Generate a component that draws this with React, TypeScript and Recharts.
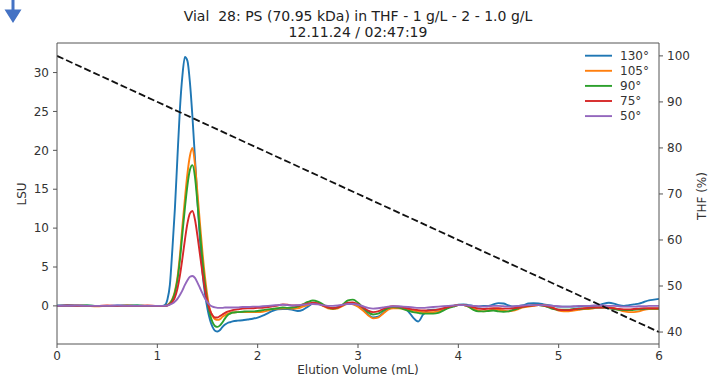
import React from 'react';
import { LineChart, Line, XAxis, YAxis, ReferenceLine } from 'recharts';

const elution = [
  0, 0.1, 0.2, 0.3, 0.4, 0.5, 0.6, 0.7, 0.8, 0.9, 1.0,
  1.05, 1.075, 1.1, 1.125, 1.15, 1.175, 1.2, 1.225, 1.25, 1.275,
  1.3, 1.325, 1.35, 1.375, 1.4, 1.425, 1.45, 1.475, 1.5, 1.525,
  1.55, 1.575, 1.6, 1.625, 1.65, 1.675, 1.7, 1.725, 1.75,
  1.8, 1.85, 1.9, 1.95, 2.0, 2.05, 2.1, 2.15, 2.2, 2.25,
  2.3, 2.35, 2.4, 2.45, 2.5, 2.55, 2.6, 2.65, 2.7, 2.75,
  2.8, 2.85, 2.9, 2.95, 3.0, 3.05, 3.1, 3.15, 3.2, 3.25,
  3.3, 3.35, 3.4, 3.45, 3.5, 3.55, 3.6, 3.65, 3.7, 3.75,
  3.8, 3.85, 3.9, 3.95, 4.0, 4.05, 4.1, 4.15, 4.2, 4.25,
  4.3, 4.35, 4.4, 4.45, 4.5, 4.55, 4.6, 4.65, 4.7, 4.75,
  4.8, 4.85, 4.9, 4.95, 5.0, 5.05, 5.1, 5.15, 5.2, 5.25,
  5.3, 5.35, 5.4, 5.45, 5.5, 5.55, 5.6, 5.65, 5.7, 5.75,
  5.8, 5.85, 5.9, 5.95, 6.0,
];

const lsu130 = [
  0.05, 0.1, 0.1, 0.05, 0.0, 0.0, 0.05, 0.1, 0.05, 0.0, 0.0,
  0.0, 0.1, 0.8, 2.7, 7.3, 12.5, 19.0, 25.3, 29.6, 32.0,
  31.5, 28.7, 24.3, 19.0, 13.6, 8.5, 4.3, 1.5, -0.4, -1.8,
  -2.7, -3.2, -3.3, -3.1, -2.7, -2.4, -2.2, -2.1, -2.0,
  -1.9, -1.85, -1.75, -1.65, -1.5, -1.25, -0.95, -0.65, -0.45, -0.4,
  -0.4, -0.5, -0.65, -0.5, -0.1, 0.3, 0.35, 0.1, -0.2, -0.3,
  -0.2, 0.1, 0.35, 0.3, 0.0, -0.5, -1.1, -1.5, -1.4, -0.9,
  -0.4, -0.2, -0.2, -0.3, -0.7, -1.5, -2.0, -1.1, -0.55, -0.5,
  -0.5, -0.4, -0.2, 0.0, 0.15, 0.2, 0.1, 0.0, -0.1, 0.0,
  0.0, 0.2, 0.35, 0.3, 0.05, -0.1, 0.0, 0.1, 0.3, 0.35,
  0.3, 0.2, 0.1, 0.0, -0.1, -0.1, -0.1, -0.1, -0.1, 0.0,
  0.0, 0.0, 0.1, 0.3, 0.4, 0.3, 0.1, 0.0, 0.1, 0.2,
  0.3, 0.5, 0.7, 0.8, 0.9,
];

const lsu105 = [
  0, 0, 0.05, 0, -0.05, 0, 0, 0.05, 0, 0, 0,
  0.0, 0.0, 0.1, 0.4, 0.9, 1.9, 3.6, 6.5, 10.3, 13.8,
  17.0, 19.3, 20.3, 18.2, 14.5, 10.6, 6.9, 3.7, 1.2, -0.5,
  -1.3, -1.7, -1.8, -1.7, -1.4, -1.2, -1.0, -0.9, -0.85,
  -0.8, -0.8, -0.8, -0.8, -0.8, -0.75, -0.6, -0.4, -0.35, -0.3,
  -0.3, -0.35, -0.3, -0.1, 0.1, 0.3, 0.3, 0.0, -0.3, -0.4,
  -0.3, 0.0, 0.3, 0.2, -0.1, -0.6, -1.2, -1.6, -1.5, -1.0,
  -0.5, -0.3, -0.3, -0.4, -0.5, -0.6, -0.7, -0.8, -0.8, -0.8,
  -0.7, -0.5, -0.2, 0.0, 0.1, 0.1, -0.1, -0.4, -0.6, -0.7,
  -0.6, -0.5, -0.5, -0.6, -0.7, -0.6, -0.4, -0.2, -0.1, 0.0,
  0.1, 0.1, 0.0, -0.3, -0.6, -0.7, -0.7, -0.6, -0.5, -0.4,
  -0.4, -0.3, -0.2, -0.2, -0.2, -0.3, -0.5, -0.7, -0.8, -0.8,
  -0.7, -0.5, -0.4, -0.4, -0.4,
];

const lsu90 = [
  0, 0, 0, 0.05, 0, 0, 0, 0, 0.05, 0, 0,
  0.0, 0.0, 0.1, 0.3, 0.8, 1.7, 3.3, 5.9, 9.3, 12.6,
  15.5, 17.5, 18.1, 16.6, 13.2, 9.4, 5.8, 2.8, 0.5, -1.1,
  -2.1, -2.6, -2.7, -2.5, -2.1, -1.6, -1.2, -1.0, -0.85,
  -0.8, -0.75, -0.7, -0.7, -0.65, -0.55, -0.45, -0.4, -0.3, -0.2,
  -0.25, -0.2, -0.1, 0.2, 0.5, 0.7, 0.55, 0.2, -0.2, -0.35,
  -0.2, 0.2, 0.7, 0.8, 0.4, -0.2, -0.8, -1.1, -1.0, -0.6,
  -0.3, -0.15, -0.2, -0.4, -0.6, -0.8, -0.9, -1.0, -1.0, -1.0,
  -0.9, -0.6, -0.3, -0.1, 0.1, 0.1, -0.1, -0.5, -0.7, -0.7,
  -0.65, -0.6, -0.7, -0.75, -0.7, -0.5, -0.3, -0.1, 0.0, 0.1,
  0.1, 0.0, -0.2, -0.4, -0.5, -0.5, -0.5, -0.4, -0.4, -0.35,
  -0.3, -0.25, -0.2, -0.2, -0.3, -0.4, -0.5, -0.55, -0.55, -0.5,
  -0.45, -0.4, -0.35, -0.35, -0.35,
];

const lsu75 = [
  0, 0.05, 0, 0, 0, 0.05, 0, 0, 0, 0.05, 0,
  0.0, 0.0, 0.05, 0.2, 0.5, 1.1, 2.2, 3.9, 6.1, 8.5,
  10.6, 11.9, 12.2, 11.1, 9.0, 6.6, 4.2, 2.1, 0.5, -0.6,
  -1.2, -1.5, -1.5, -1.3, -1.1, -0.9, -0.75, -0.65, -0.55,
  -0.45, -0.35, -0.3, -0.3, -0.25, -0.25, -0.15, -0.05, 0.05, 0.2,
  0.15, 0.05, 0.05, 0.15, 0.3, 0.4, 0.3, 0.05, -0.2, -0.3,
  -0.2, 0.1, 0.4, 0.45, 0.2, -0.2, -0.6, -0.8, -0.7, -0.4,
  -0.15, -0.05, -0.1, -0.2, -0.35, -0.45, -0.55, -0.6, -0.6, -0.55,
  -0.45, -0.3, -0.15, 0.0, 0.1, 0.1, 0.0, -0.2, -0.35, -0.4,
  -0.35, -0.3, -0.3, -0.35, -0.35, -0.3, -0.2, -0.1, 0.0, 0.05,
  0.1, 0.05, -0.1, -0.3, -0.5, -0.55, -0.55, -0.45, -0.35, -0.3,
  -0.25, -0.2, -0.2, -0.2, -0.25, -0.3, -0.4, -0.45, -0.45, -0.4,
  -0.35, -0.3, -0.3, -0.3, -0.3,
];

const lsu50 = [
  0, 0, 0.05, 0, 0, 0, 0.05, 0, 0, 0, 0,
  0.0, 0.0, 0.05, 0.15, 0.3, 0.55, 0.9, 1.4, 2.0, 2.7,
  3.3, 3.75, 3.85, 3.6, 3.0, 2.3, 1.6, 0.95, 0.45, 0.1,
  -0.1, -0.2, -0.25, -0.25, -0.25, -0.2, -0.2, -0.2, -0.2,
  -0.2, -0.15, -0.15, -0.1, -0.1, -0.05, 0.0, 0.05, 0.1, 0.15,
  0.1, 0.05, 0.1, 0.15, 0.2, 0.25, 0.2, 0.1, 0.0, 0.0,
  0.05, 0.15, 0.25, 0.25, 0.15, -0.05, -0.25, -0.35, -0.3, -0.2,
  -0.1, -0.05, -0.05, -0.1, -0.15, -0.2, -0.25, -0.25, -0.2, -0.15,
  -0.1, -0.05, 0.0, 0.05, 0.1, 0.1, 0.05, 0.0, -0.05, -0.1,
  -0.05, 0.0, 0.0, -0.05, -0.1, -0.05, 0.0, 0.05, 0.1, 0.1,
  0.1, 0.1, 0.05, 0.0, -0.05, -0.1, -0.1, -0.05, 0.0, 0.0,
  0.0, 0.05, 0.05, 0.05, 0.0, 0.0, -0.05, -0.1, -0.1, -0.1,
  -0.05, -0.05, 0.0, 0.0, 0.0,
];

const seriesKeys = ['s130', 's105', 's90', 's75', 's50'];
const seriesNames = ['130°', '105°', '90°', '75°', '50°'];
const seriesColors = ['#1f77b4', '#ff7f0e', '#2ca02c', '#d62728', '#9467bd'];
const seriesValues = [lsu130, lsu105, lsu90, lsu75, lsu50];

const thfVolume = [0, 6];
const thfPercent = [100, 40];

const volumeTicks = [0, 1, 2, 3, 4, 5, 6];
const lsuTicks = [0, 5, 10, 15, 20, 25, 30];
const thfTicks = [40, 50, 60, 70, 80, 90, 100];

const titleLine1 = 'Vial  28: PS (70.95 kDa) in THF - 1 g/L - 2 - 1.0 g/L';
const titleLine2 = '12.11.24 / 02:47:19';

const rows = elution.map((x, i) => {
  const r: Record<string, number> = { x };
  seriesKeys.forEach((k, j) => {
    r[k] = seriesValues[j][i];
  });
  return r;
});

const thfRows = thfVolume.map((x, i) => ({ x, thf: thfPercent[i] }));

const FONT = 'DejaVu Sans';
const tickStyle = { fill: '#333', fontSize: 12, fontFamily: FONT };
const axisColor = '#555';

export default function App() {
  return (
    <div style={{ position: 'absolute', left: 0, top: 0, width: 710, height: 377, background: '#fff' }}>
      <LineChart width={710} height={377} data={rows} margin={{ top: 43, right: 0, bottom: 0, left: 0 }}>
        <XAxis
          dataKey="x"
          type="number"
          domain={[0, 6]}
          ticks={volumeTicks}
          height={33}
          tickSize={4}
          tickMargin={3}
          tick={tickStyle}
          stroke={axisColor}
          allowDataOverflow
        />
        <YAxis
          yAxisId="left"
          type="number"
          domain={[-4.9, 33.8]}
          ticks={lsuTicks}
          width={57}
          tickSize={4}
          tickMargin={4}
          tick={tickStyle}
          stroke={axisColor}
          allowDataOverflow
        />
        <YAxis
          yAxisId="right"
          orientation="right"
          type="number"
          domain={[37.4, 102.8]}
          ticks={thfTicks}
          width={51}
          tickSize={4}
          tickMargin={4}
          tick={tickStyle}
          stroke={axisColor}
          allowDataOverflow
        />
        <ReferenceLine yAxisId="left" y={33.8} stroke={axisColor} strokeWidth={1} />
        {seriesKeys.map((k, j) => (
          <Line
            key={k}
            yAxisId="left"
            type="monotone"
            dataKey={k}
            name={seriesNames[j]}
            stroke={seriesColors[j]}
            strokeWidth={1.9}
            dot={false}
            activeDot={false}
            isAnimationActive={false}
          />
        ))}
        <Line
          yAxisId="right"
          data={thfRows}
          type="linear"
          dataKey="thf"
          stroke="#111"
          strokeWidth={1.8}
          strokeDasharray="7 3"
          dot={false}
          activeDot={false}
          legendType="none"
          isAnimationActive={false}
        />
      </LineChart>
      <svg
        width={710}
        height={377}
        style={{ position: 'absolute', left: 0, top: 0, pointerEvents: 'none' }}
      >
        <polygon points="11.5,0 14.5,0 14.5,9.5 21.5,9.5 13,23 4.5,9.5 11.5,9.5" fill="#4472C4" />
        <text x={358} y={21} textAnchor="middle" fontFamily={FONT} fontSize={14} fill="#222" style={{ whiteSpace: 'pre' }}>
          {titleLine1}
        </text>
        <text x={358} y={37} textAnchor="middle" fontFamily={FONT} fontSize={14} fill="#222">
          {titleLine2}
        </text>
        <text
          x={22}
          y={194}
          textAnchor="middle"
          dominantBaseline="central"
          transform="rotate(-90, 22, 194)"
          fontFamily={FONT}
          fontSize={12}
          fill="#333"
        >
          LSU
        </text>
        <text
          x={702}
          y={196}
          textAnchor="middle"
          dominantBaseline="central"
          transform="rotate(-90, 702, 196)"
          fontFamily={FONT}
          fontSize={12}
          fill="#333"
        >
          THF (%)
        </text>
        <text x={358} y={374} textAnchor="middle" fontFamily={FONT} fontSize={12} fill="#333">
          Elution Volume (mL)
        </text>
        {seriesNames.map((name, i) => (
          <g key={name}>
            <line
              x1={585}
              x2={612}
              y1={55.7 + 15.1 * i}
              y2={55.7 + 15.1 * i}
              stroke={seriesColors[i]}
              strokeWidth={1.9}
            />
            <text
              x={620}
              y={55.7 + 15.1 * i}
              dominantBaseline="central"
              fontFamily={FONT}
              fontSize={12}
              fill="#333"
            >
              {name}
            </text>
          </g>
        ))}
      </svg>
    </div>
  );
}
